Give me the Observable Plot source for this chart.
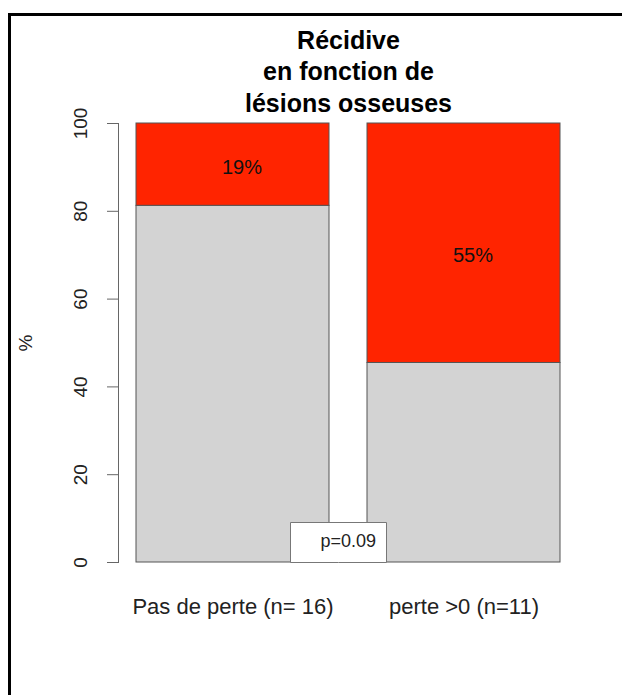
<!DOCTYPE html>
<html><head><meta charset="utf-8">
<script src="https://cdn.jsdelivr.net/npm/d3@7"></script>
<script src="https://cdn.jsdelivr.net/npm/@observablehq/plot@0.6"></script>
<style>
body{margin:0;background:#fff;}
#wrap{position:relative;width:622px;height:695px;overflow:hidden;}
#border{position:absolute;left:8px;top:13px;right:0;bottom:0;border-top:3px solid #000;border-left:3px solid #000;pointer-events:none;z-index:2;}
</style></head><body><div id="wrap"><div id="border"></div></div>
<script>
const titleText = "Récidive\nen fonction de\nlésions osseuses";
const categories = ["Pas de perte (n= 16)", "perte >0 (n=11)"];
const groups = ["Pas de récidive", "Récidive"];
const groupColors = ["#d3d3d3", "#ff2400"];
const noRecidive = [81.25, 45.45];
const recidive = [18.75, 54.55];
const recidiveLabels = ["19%", "55%"];
const labelY = [90, 70];
const yTicks = [0, 20, 40, 60, 80, 100];
const yLabel = "%";
const pValueText = "p=0.09";

const rows = [];
categories.forEach((c, i) => {
  rows.push({cat: c, group: groups[0], value: noRecidive[i]});
  rows.push({cat: c, group: groups[1], value: recidive[i]});
});
const pctLabels = categories.map((c, i) => ({cat: c, y: labelY[i], text: recidiveLabels[i]}));

const chart = Plot.plot({
  width: 622, height: 695,
  marginTop: 123, marginBottom: 133, marginLeft: 118, marginRight: 44,
  style: {fontFamily: "'Liberation Sans', Arial, Helvetica, sans-serif", background: "white", color: "#222"},
  x: {domain: categories, range: [136, 561], paddingInner: 0.1645, paddingOuter: 0},
  y: {domain: [0, 100]},
  color: {domain: groups, range: groupColors},
  marks: [
    Plot.barY(rows, {x: "cat", y: "value", fill: "group", stroke: "#555", strokeWidth: 1}),
    Plot.text(pctLabels, {x: "cat", y: "y", text: "text", fontSize: 20, dx: 9, fill: "#111"}),
    Plot.frame({anchor: "left", stroke: "#666"}),
    Plot.axisY({ticks: yTicks, tickSize: 11, tickPadding: 21, tickRotate: -90, fontSize: 19, stroke: "#666", fill: "#222",
      label: yLabel, labelAnchor: "center", labelArrow: "none", labelOffset: 100}),
    Plot.axisX({tickSize: 0, tickPadding: 36, fontSize: 22, label: null, fill: "#222"}),
    Plot.text([titleText], {frameAnchor: "top", text: d => d, lineAnchor: "bottom", dy: -12, fontSize: 25, fontWeight: "bold", lineHeight: 1.25, fill: "#000"}),
    Plot.tip([pValueText], {frameAnchor: "bottom", anchor: "bottom", title: d => "\u00a0\u00a0\u00a0\u00a0" + d, pointerSize: 0, pathFilter: "none",
      fontSize: 18, textPadding: 10, dx: -10, stroke: "#777", fill: "white"})
  ]
});
document.getElementById("wrap").appendChild(chart);
</script>
</body></html>
